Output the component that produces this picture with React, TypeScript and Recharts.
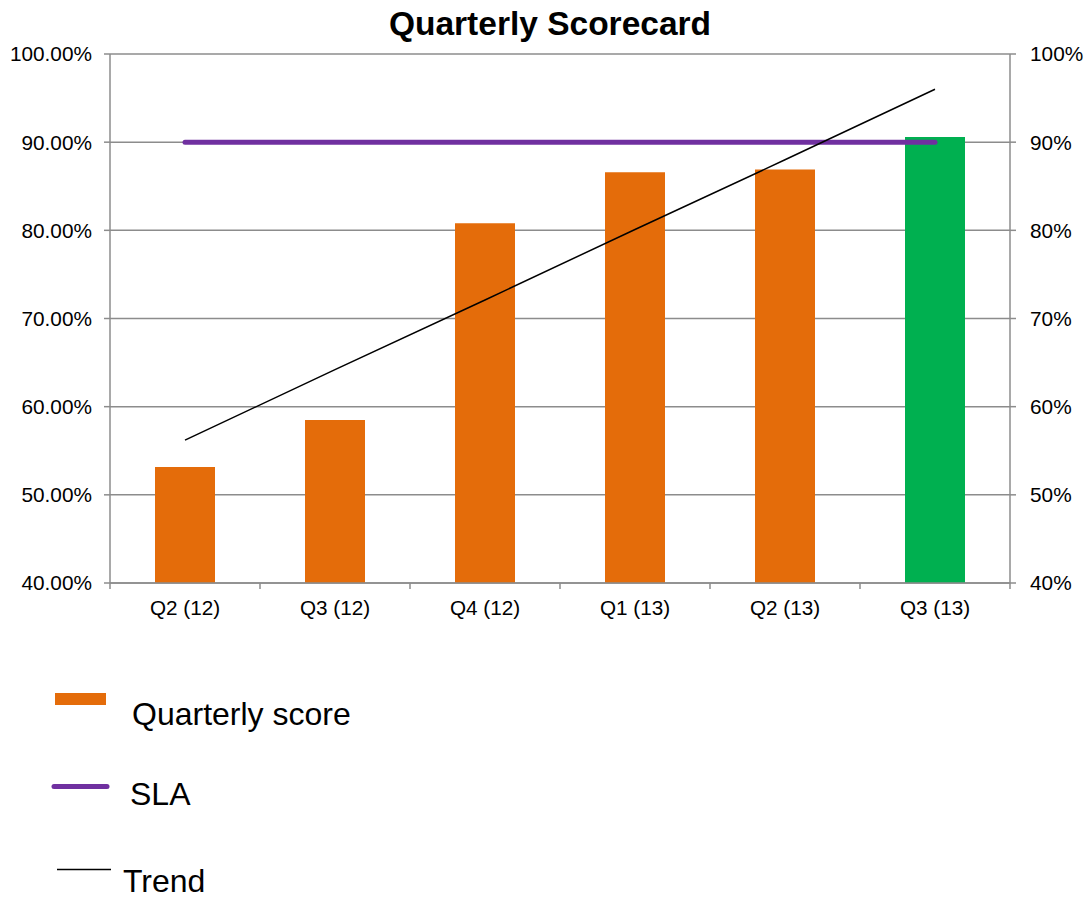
import {
  Bar,
  CartesianGrid,
  Cell,
  ComposedChart,
  Legend,
  Line,
  XAxis,
  YAxis,
} from "recharts";

const quarters = ["Q2 (12)", "Q3 (12)", "Q4 (12)", "Q1 (13)", "Q2 (13)", "Q3 (13)"];
const scores = [53.15, 58.5, 80.8, 86.6, 86.9, 90.6];
const sla = [90, 90, 90, 90, 90, 90];
const trend = [56.2, 64.2, 72.1, 80.1, 88.0, 96.0];
const yTicks = [40, 50, 60, 70, 80, 90, 100];

const ORANGE = "#E46C0A";
const GREEN = "#00B050";
const PURPLE = "#7030A0";
const GRID = "#8c8c8c";
const FONT = "'Liberation Sans', Arial, sans-serif";
const X_TICK_MARGIN = 17;

const data = quarters.map((q, i) => ({
  quarter: q,
  score: scores[i],
  sla: sla[i],
  trend: trend[i],
}));

// category label plus tick marks on the band edges (Excel style)
function QuarterTick(props: any) {
  const { x, y, payload, index, visibleTicksCount } = props;
  const half = payload?.offset ?? 0;
  const axisY = y - X_TICK_MARGIN;
  const isLast = index === visibleTicksCount - 1;
  return (
    <g>
      <line x1={x - half} x2={x - half} y1={axisY} y2={axisY + 6} stroke={GRID} strokeWidth={1.5} />
      {isLast && (
        <line x1={x + half} x2={x + half} y1={axisY} y2={axisY + 6} stroke={GRID} strokeWidth={1.5} />
      )}
      <text
        x={x}
        y={y}
        dy="0.71em"
        textAnchor="middle"
        fontSize={20.7}
        fill="#000"
        fontFamily={FONT}
      >
        {payload.value}
      </text>
    </g>
  );
}

function ChartLegend() {
  return (
    <svg width={400} height={232} style={{ fontFamily: FONT }}>
      <rect x={55} y={23} width={51} height={12} fill={ORANGE} />
      <text x={132} y={55} fontSize={32} fill="#000">
        Quarterly score
      </text>
      <line
        x1={54}
        x2={107}
        y1={116.5}
        y2={116.5}
        stroke={PURPLE}
        strokeWidth={5}
        strokeLinecap="round"
      />
      <text x={130} y={135} fontSize={32} fill="#000">
        SLA
      </text>
      <line x1={57} x2={111} y1={199.5} y2={199.5} stroke="#000" strokeWidth={1.5} />
      <text x={123} y={222} fontSize={32} fill="#000">
        Trend
      </text>
    </svg>
  );
}

export default function App() {
  return (
    <div
      style={{
        position: "absolute",
        left: 0,
        top: 0,
        width: 1088,
        height: 902,
        background: "#fff",
        fontFamily: FONT,
      }}
    >
      <div
        style={{
          position: "absolute",
          left: 0,
          width: 1100,
          top: 5,
          textAlign: "center",
          fontSize: 33.5,
          fontWeight: "bold",
          color: "#000",
          zIndex: 2,
        }}
      >
        Quarterly Scorecard
      </div>
      <ComposedChart
        width={1088}
        height={902}
        data={data}
        margin={{ top: 54, right: 8, left: 10, bottom: 279 }}
      >
        <CartesianGrid
          vertical={false}
          stroke={GRID}
          strokeWidth={1.5}
          yAxisId="left"
        />
        <XAxis
          dataKey="quarter"
          height={40}
          axisLine={{ stroke: GRID, strokeWidth: 1.5 }}
          tickLine={false}
          tickSize={0}
          tickMargin={X_TICK_MARGIN}
          interval={0}
          tick={<QuarterTick />}
        />
        <YAxis
          yAxisId="left"
          domain={[40, 100]}
          ticks={yTicks}
          width={100}
          allowDataOverflow
          axisLine={{ stroke: GRID, strokeWidth: 1.5 }}
          tickLine={{ stroke: GRID, strokeWidth: 1.5 }}
          tickSize={6}
          tickMargin={12}
          tickFormatter={(v: number) => `${v.toFixed(2)}%`}
          tick={{ fontSize: 20.8, fill: "#000", fontFamily: FONT }}
        />
        <YAxis
          yAxisId="right"
          orientation="right"
          domain={[40, 100]}
          ticks={yTicks}
          width={70}
          allowDataOverflow
          axisLine={{ stroke: GRID, strokeWidth: 1.5 }}
          tickLine={{ stroke: GRID, strokeWidth: 1.5 }}
          tickSize={6}
          tickMargin={14}
          tickFormatter={(v: number) => `${v}%`}
          tick={{ fontSize: 20.8, fill: "#000", fontFamily: FONT }}
        />
        <Bar
          yAxisId="left"
          dataKey="score"
          name="Quarterly score"
          barSize={60}
          isAnimationActive={false}
        >
          {data.map((d, i) => (
            <Cell key={d.quarter} fill={i === data.length - 1 ? GREEN : ORANGE} />
          ))}
        </Bar>
        <Line
          yAxisId="left"
          dataKey="sla"
          name="SLA"
          stroke={PURPLE}
          strokeWidth={5}
          strokeLinecap="round"
          dot={false}
          activeDot={false}
          isAnimationActive={false}
        />
        <Line
          yAxisId="right"
          dataKey="trend"
          name="Trend"
          stroke="#000"
          strokeWidth={1.5}
          dot={false}
          activeDot={false}
          isAnimationActive={false}
        />
        <Legend
          layout="horizontal"
          verticalAlign="middle"
          align="center"
          content={() => <ChartLegend />}
          wrapperStyle={{ left: 0, top: 670, width: 400, height: 232 }}
        />
      </ComposedChart>
    </div>
  );
}
